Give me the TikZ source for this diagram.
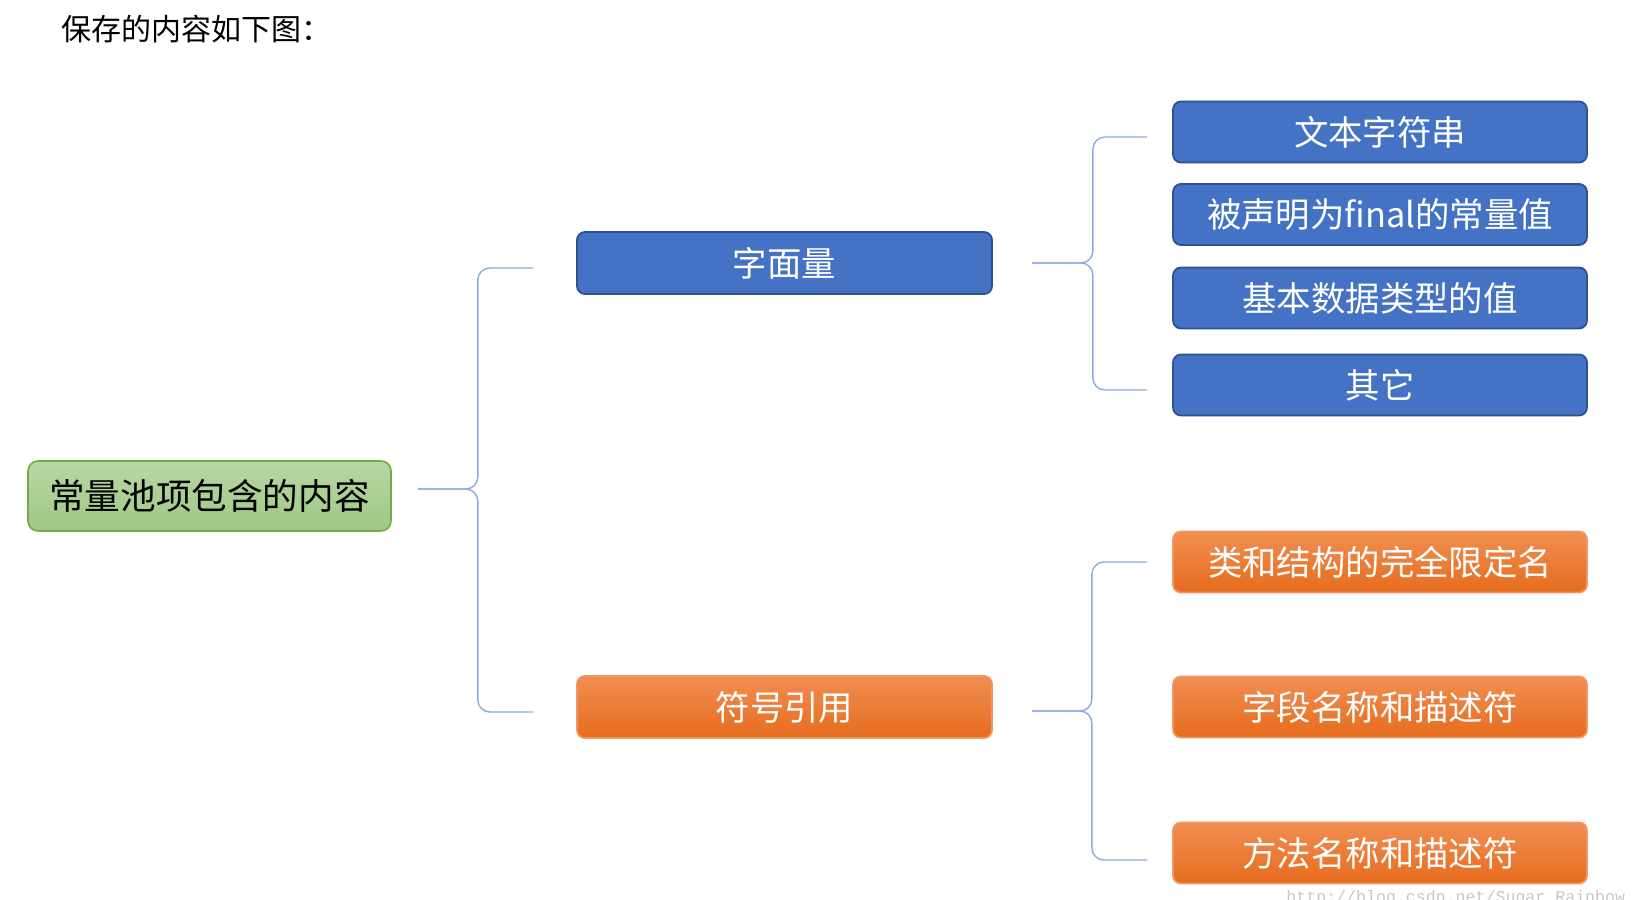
\documentclass[tikz,border=0pt]{standalone}
\usepackage{fontspec}
\setmainfont{Noto Sans CJK SC}
\setmonofont{Liberation Mono}
\usetikzlibrary{calc,positioning}
\definecolor{cpblue}{RGB}{68,114,196}
\definecolor{cpbluedk}{RGB}{47,82,143}
\definecolor{cporangelt}{RGB}{241,142,82}
\definecolor{cporangedk}{RGB}{230,108,30}
\definecolor{cporangeln}{RGB}{238,150,100}
\definecolor{cpgreenlt}{RGB}{184,215,164}
\definecolor{cpgreendk}{RGB}{158,200,132}
\definecolor{cpgreenln}{RGB}{112,173,71}
\definecolor{cpline}{RGB}{140,170,225}

\begin{document}
\begin{tikzpicture}[x=0.5pt,y=-0.5pt,font=\fontsize{17.2pt}{20pt}\selectfont,
    every node/.style={align=center,inner sep=0pt},
    leaf/.style={draw,rounded corners=4pt,minimum width=207pt,minimum height=30.5pt,text=white,line width=0.9pt},
    litbox/.style={leaf,fill=cpblue,draw=cpbluedk},
    symbox/.style={leaf,top color=cporangelt,bottom color=cporangedk,draw=cporangeln},
    bracket/.style={draw=cpline,line width=0.7pt,rounded corners=6pt}]
  \useasboundingbox (0,0) rectangle (1642,899);
  \node[anchor=west,font=\fontsize{15pt}{18pt}\selectfont] (title) at (61,29) {保存的内容如下图：};
  % root and middle level
  \node[draw=cpgreenln,top color=cpgreenlt,bottom color=cpgreendk,rounded corners=5pt,minimum width=181.5pt,minimum height=35pt,line width=0.8pt,font=\fontsize{17.8pt}{20pt}\selectfont] (root) at (209.5,496) {常量池项包含的内容};
  \node[litbox,minimum width=207.5pt,minimum height=31pt] (literal) at (784.5,263) {字面量};
  \node[symbox,minimum width=207.5pt,minimum height=31pt] (symref) at (784.5,707) {符号引用};
  % leaves
  \node[litbox] (text) at (1380,132) {文本字符串};
  \node[litbox] (final) at (1380,214.5) {被声明为final的常量值};
  \node[litbox] (basic) at (1380,298) {基本数据类型的值};
  \node[litbox] (other) at (1380,385) {其它};
  \node[symbox] (qname) at (1380,562) {类和结构的完全限定名};
  \node[symbox] (field) at (1380,707) {字段名称和描述符};
  \node[symbox] (method) at (1380,853) {方法名称和描述符};
  \node[anchor=north west,text=black!22,font=\fontsize{8.3pt}{10pt}\ttfamily] (mark) at (1286,890) {http://blog.csdn.net/Sugar\_Rainbow};
  % brackets
  \coordinate (r0) at ($(root.east)+(26,-7)$);
  \coordinate (rs) at ($(r0)+(60,0)$);
  \coordinate (r1) at ($(literal.west)+(-43,5)$);
  \coordinate (r2) at ($(symref.west)+(-43,5)$);
  \draw[bracket] (r1) -- (rs |- r1) -- (rs |- r0) -- (r0);
  \draw[bracket] (r2) -- (rs |- r2) -- (rs |- r0) -- (r0);
  \coordinate (l0) at ($(literal.east)+(39,0)$);
  \coordinate (ls) at ($(l0)+(61,0)$);
  \coordinate (l1) at ($(text.west)+(-25,5)$);
  \coordinate (l4) at ($(other.west)+(-25,5)$);
  \draw[bracket] (l1) -- (ls |- l1) -- (ls |- l0) -- (l0);
  \draw[bracket] (l4) -- (ls |- l4) -- (ls |- l0) -- (l0);
  \coordinate (s0) at ($(symref.east)+(39,4)$);
  \coordinate (ss) at ($(s0)+(60,0)$);
  \coordinate (s1) at ($(qname.west)+(-25,0)$);
  \coordinate (s3) at ($(method.west)+(-25,7)$);
  \draw[bracket] (s1) -- (ss |- s1) -- (ss |- s0) -- (s0);
  \draw[bracket] (s3) -- (ss |- s3) -- (ss |- s0) -- (s0);
\end{tikzpicture}
\end{document}
